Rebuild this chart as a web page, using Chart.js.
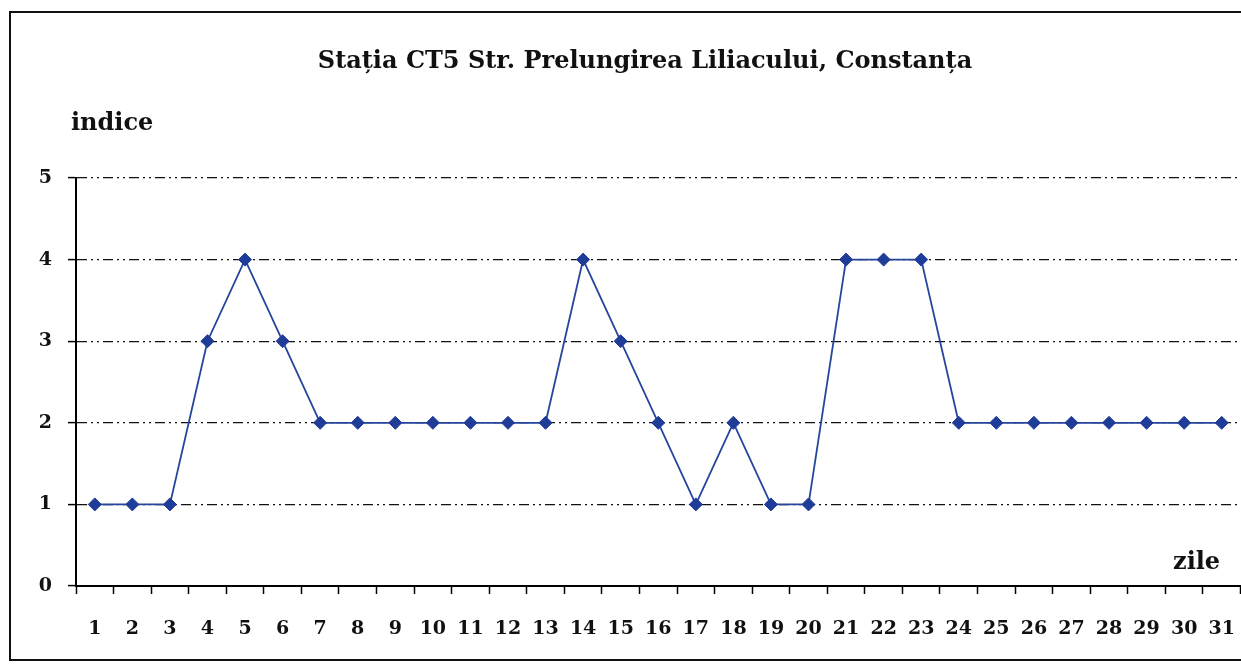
<!DOCTYPE html>
<html>
<head>
<meta charset="utf-8">
<script src="https://cdn.jsdelivr.net/npm/chart.js@4.4.0/dist/chart.umd.min.js"></script>
<style>
  html, body { margin: 0; padding: 0; background: #fff; overflow: hidden; }
  canvas { display: block; }
</style>
</head>
<body>
<canvas id="chart" width="1248" height="665"></canvas>
<script>
// Data
const days = ['1','2','3','4','5','6','7','8','9','10','11','12','13','14','15','16',
              '17','18','19','20','21','22','23','24','25','26','27','28','29','30','31'];
const indice = [1,1,1,3,4,3,2,2,2,2,2,2,2,4,3,2,1,2,1,1,4,4,4,2,2,2,2,2,2,2,2];
const yMin = 0;
const yMax = 5;
const titleText = 'Stația CT5 Str. Prelungirea Liliacului, Constanța';
const yAxisLabel = 'indice';
const xAxisLabel = 'zile';

const serif = 'DejaVu Serif';

// Frame, title and the two axis captions
const textPlugin = {
    id: 'textPlugin',
    beforeDraw(chart) {
        const ctx = chart.ctx;
        ctx.save();
        ctx.fillStyle = '#fff';
        ctx.fillRect(0, 0, chart.width, chart.height);
        ctx.strokeStyle = '#111';
        ctx.lineWidth = 2;
        ctx.strokeRect(10, 12, chart.width + 20, 648);
        ctx.restore();
    },
    afterDraw(chart) {
        const ctx = chart.ctx;
        ctx.save();
        ctx.fillStyle = '#111';
        ctx.textBaseline = 'middle';
        ctx.font = 'bold 24px "' + serif + '"';
        ctx.textAlign = 'center';
        ctx.fillText(titleText, 645, 62);
        ctx.textAlign = 'left';
        ctx.fillText(yAxisLabel, 71, 124);
        ctx.fillText(xAxisLabel, 1173, 563);
        ctx.restore();
    }
};

const chart = new Chart(document.getElementById('chart'), {
    type: 'line',
    data: {
        labels: days,
        datasets: [{
            data: indice,
            borderColor: '#26459c',
            borderWidth: 1.8,
            pointStyle: 'rectRot',
            pointRadius: 6.5,
            pointBackgroundColor: '#1f3c98',
            pointBorderColor: '#1f3c98',
            pointBorderWidth: 1,
            tension: 0,
            clip: false
        }]
    },
    options: {
        responsive: false,
        animation: false,
        layout: { padding: { left: 0, top: 178, right: 1, bottom: 0 } },
        plugins: {
            legend: { display: false },
            tooltip: { enabled: false },
            title: { display: false }
        },
        scales: {
            x: {
                offset: true,
                grid: {
                    display: true,
                    drawOnChartArea: false,
                    drawTicks: true,
                    tickLength: 8,
                    tickColor: '#000',
                    tickWidth: 1.5,
                    offset: true
                },
                border: { display: true, color: '#000', width: 2 },
                ticks: {
                    color: '#111',
                    font: { family: serif, weight: 'bold', size: 19, lineHeight: '58px' },
                    padding: 6,
                    maxRotation: 0,
                    autoSkip: false
                },
                afterFit(scale) {
                    scale.height = 79;
                    scale.paddingLeft = 0;
                    scale.paddingRight = 0;
                }
            },
            y: {
                min: yMin,
                max: yMax,
                grid: {
                    color: '#111',
                    lineWidth: 1.2,
                    tickLength: 8,
                    tickColor: '#000',
                    tickWidth: 1.5,
                    tickBorderDash: []
                },
                border: { display: true, color: '#000', width: 2, dash: [10, 4, 2, 4, 2, 4] },
                ticks: {
                    stepSize: 1,
                    color: '#111',
                    font: { family: serif, weight: 'bold', size: 19 },
                    padding: 16
                },
                afterFit(scale) { scale.width = 76; }
            }
        }
    },
    plugins: [textPlugin]
});
</script>
</body>
</html>
